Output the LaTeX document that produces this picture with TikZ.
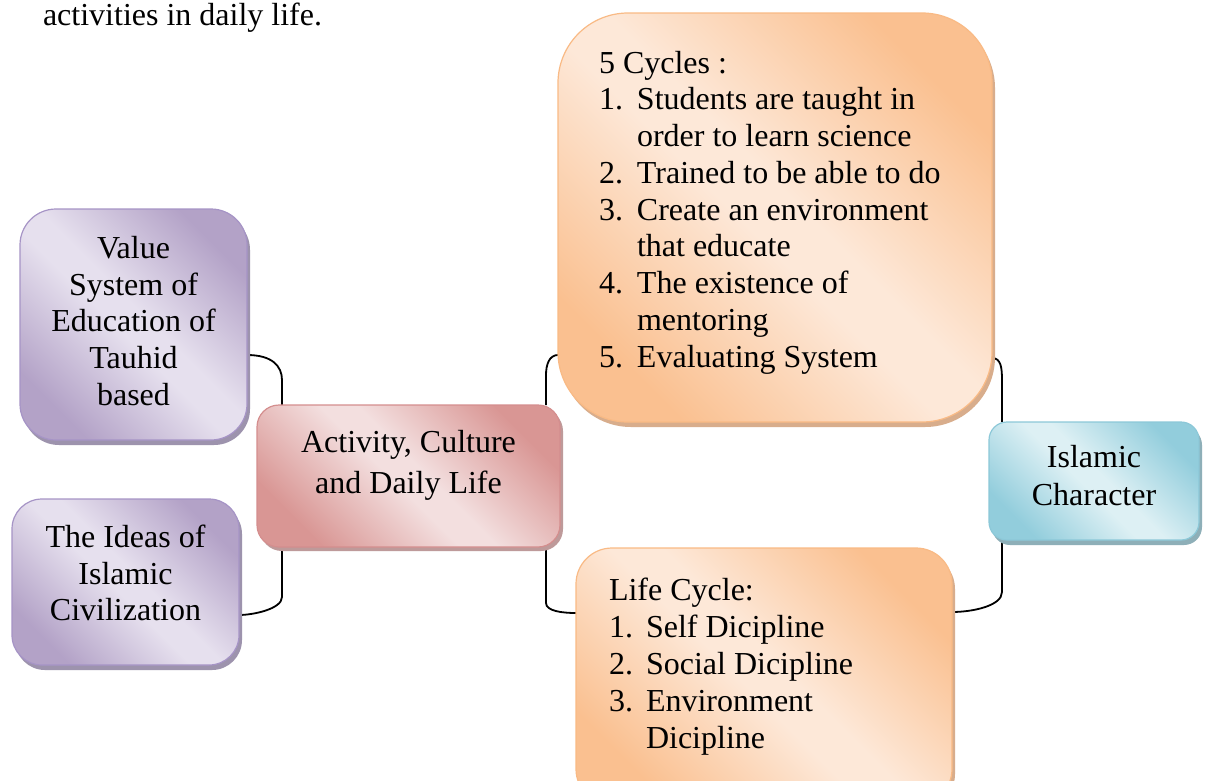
\documentclass[tikz,border=0pt]{standalone}
\usepackage{fontspec}
\setmainfont{Liberation Serif}
\usetikzlibrary{shadows}
\pgfdeclarelayer{bg}
\pgfsetlayers{bg,main}
\definecolor{pdark}{HTML}{B3A2C7}
\definecolor{plight}{HTML}{E6E0EE}
\definecolor{pborder}{HTML}{A694C6}
\definecolor{pshadow}{HTML}{9D93AD}
\definecolor{rdark}{HTML}{D99694}
\definecolor{rlight}{HTML}{F3DFDF}
\definecolor{rborder}{HTML}{D48E8E}
\definecolor{rshadow}{HTML}{BE9A9A}
\definecolor{odark}{HTML}{FAC090}
\definecolor{olight}{HTML}{FDE8D8}
\definecolor{oborder}{HTML}{F9BA85}
\definecolor{oshadow}{HTML}{D8AD8C}
\definecolor{tdark}{HTML}{92CDDC}
\definecolor{tlight}{HTML}{DDF0F4}
\definecolor{tborder}{HTML}{8CC8D8}
\definecolor{tshadow}{HTML}{8EAFB8}
\pgfdeclarehorizontalshading{shP}{100bp}{color(0bp)=(pdark); color(25bp)=(pdark); color(47bp)=(plight); color(53bp)=(plight); color(75bp)=(pdark); color(100bp)=(pdark)}
\pgfdeclarehorizontalshading{shR}{100bp}{color(0bp)=(rdark); color(25bp)=(rdark); color(47bp)=(rlight); color(53bp)=(rlight); color(75bp)=(rdark); color(100bp)=(rdark)}
\pgfdeclarehorizontalshading{shO}{100bp}{color(0bp)=(odark); color(25bp)=(odark); color(47bp)=(olight); color(53bp)=(olight); color(75bp)=(odark); color(100bp)=(odark)}
\pgfdeclarehorizontalshading{shT}{100bp}{color(0bp)=(tdark); color(25bp)=(tdark); color(47bp)=(tlight); color(53bp)=(tlight); color(75bp)=(tdark); color(100bp)=(tdark)}
\tikzset{
  boxbase/.style={inner sep=0pt, outer sep=0pt, line width=1.2pt, shading angle=45},
  purplebox/.style={boxbase, shading=shP, draw=pborder, drop shadow={shadow xshift=3pt, shadow yshift=-5pt, fill=pshadow, opacity=1}},
  redbox/.style={boxbase, shading=shR, draw=rborder, drop shadow={shadow xshift=3pt, shadow yshift=-4pt, fill=rshadow, opacity=1}},
  orangebox/.style={boxbase, shading=shO, draw=oborder, drop shadow={shadow xshift=3pt, shadow yshift=-5pt, fill=oshadow, opacity=1}},
  tealbox/.style={boxbase, shading=shT, draw=tborder, drop shadow={shadow xshift=3pt, shadow yshift=-5pt, fill=tshadow, opacity=1}},
  txt/.style={inner sep=0pt, outer sep=0pt, font=\fontsize{32}{36.8}\selectfont},
  conn/.style={draw=black, line width=1.8pt}
}
\begin{document}
\begin{tikzpicture}[x=1pt, y=-1pt]
\useasboundingbox (0,0) rectangle (1207,780);

% title line
\node[txt, anchor=base west] (title) at (43,25) {activities in daily life.};

% boxes
\node[purplebox, minimum width=227pt, minimum height=231pt, rounded corners=36pt] (A) at (133.5,324.5) {};
\node[purplebox, minimum width=227pt, minimum height=166pt, rounded corners=30pt] (B) at (125.5,582) {};
\node[redbox, minimum width=303pt, minimum height=142pt, rounded corners=22pt] (C) at (408.5,476) {};
\node[orangebox, minimum width=434pt, minimum height=409pt, rounded corners=70pt] (D) at (775,217.5) {};
\node[orangebox, minimum width=376pt, minimum height=257pt, rounded corners=36pt] (E) at (764,676.5) {};
\node[tealbox, minimum width=210pt, minimum height=118pt, rounded corners=18pt] (F) at (1094,481) {};

% texts
\node[txt, anchor=north, align=center] (At) at (133.5,236) {Value\\System of\\Education of\\Tauhid\\based};
\node[txt, anchor=north, align=center, font=\fontsize{32}{36.5}\selectfont] (Bt) at (125.5,525) {The Ideas of\\Islamic\\Civilization};
\node[txt, anchor=north, align=center, font=\fontsize{32}{41}\selectfont] (Ct) at (408.5,430) {Activity, Culture\\and Daily Life};
\node[txt, anchor=north west, align=left, font=\fontsize{32}{36.75}\selectfont] (Dt) at (599,51) {5 Cycles :\\
\makebox[38pt][l]{1.}Students are taught in\\
\hspace*{38pt}order to learn science\\
\makebox[38pt][l]{2.}Trained to be able to do\\
\makebox[38pt][l]{3.}Create an environment\\
\hspace*{38pt}that educate\\
\makebox[38pt][l]{4.}The existence of\\
\hspace*{38pt}mentoring\\
\makebox[38pt][l]{5.}Evaluating System};
\node[txt, anchor=north west, align=left, font=\fontsize{32}{37}\selectfont] (Et) at (609,578) {Life Cycle:\\
\makebox[37pt][l]{1.}Self Dicipline\\
\makebox[37pt][l]{2.}Social Dicipline\\
\makebox[37pt][l]{3.}Environment\\
\hspace*{37pt}Dicipline};
\node[txt, anchor=north, align=center, font=\fontsize{32}{38}\selectfont] (Ft) at (1094,445) {Islamic\\Character};

% connectors (behind the boxes)
\begin{pgfonlayer}{bg}
\fill[white] (0,0) rectangle (1207,780);
\draw[conn] ([yshift=-30.5pt]A.east) .. controls +(25,0) and +(0,-14) .. ++(35,25) -- ([xshift=-126.5pt]C.north);
\draw[conn] ([xshift=-126.5pt]C.south) -- ++(0,50) .. controls +(0,12) and +(14,0) .. ([yshift=-33pt]B.east);
\draw[conn] ([yshift=-137.5pt]D.west) .. controls +(-9,0) and +(0,-10) .. ++(-12,20) -- ([xshift=137.5pt]C.north);
\draw[conn] ([xshift=137.5pt]C.south) -- ++(0,56) .. controls +(0,8) and +(-14,0) .. ([yshift=63.5pt]E.west);
\draw[conn] ([yshift=-140.5pt]D.east) .. controls +(9,0) and +(0,-12) .. ++(10,22) -- ([xshift=-92pt]F.north);
\draw[conn] ([xshift=-92pt]F.south) -- ++(0,52) .. controls +(0,14) and +(20,0) .. ([yshift=64.5pt]E.east);
\end{pgfonlayer}
\end{tikzpicture}
\end{document}
